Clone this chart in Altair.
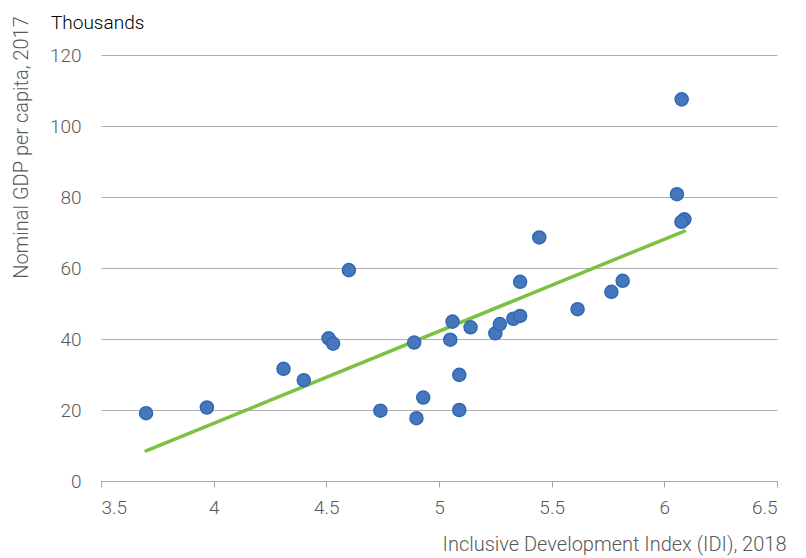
import altair as alt
import pandas as pd

idi = [3.70, 3.97, 4.31, 4.40, 4.51, 4.53, 4.60, 4.74, 4.89, 4.90, 4.93, 5.05, 5.06,
       5.09, 5.09, 5.14, 5.25, 5.27, 5.33, 5.36, 5.36, 5.445, 5.615, 5.765, 5.815,
       6.056, 6.077, 6.089, 6.076]
gdp = [19.1, 20.7, 31.6, 28.4, 40.2, 38.7, 59.4, 19.8, 39.0, 17.7, 23.5, 39.8, 44.9,
       29.9, 20.0, 43.3, 41.6, 44.2, 45.7, 46.5, 56.1, 68.6, 48.4, 53.3, 56.4,
       80.8, 107.5, 73.7, 73.0]
x_ticks = [3.5, 4, 4.5, 5, 5.5, 6, 6.5]
y_ticks = [0, 20, 40, 60, 80, 100, 120]

df = pd.DataFrame({"idi": idi, "gdp": gdp})

FONT = "Roboto"
GRAY = "#595959"

x_enc = alt.X(
    "idi:Q",
    scale=alt.Scale(domain=[3.5, 6.5], nice=False, zero=False),
    axis=alt.Axis(
        values=x_ticks, format="~g", title="Inclusive Development Index (IDI), 2018",
        grid=False, domainColor="#A6A6A6", tickColor="#A6A6A6", tickSize=6,
        labelFont=FONT, labelFontSize=19, labelFontWeight=300, labelColor=GRAY,
        labelPadding=11,
        titleFont=FONT, titleFontSize=20, titleFontWeight=300, titleColor=GRAY,
        titleX=685, titleY=69, titleAlign="right", titleBaseline="alphabetic",
    ),
)
y_enc = alt.Y(
    "gdp:Q",
    scale=alt.Scale(domain=[0, 120], nice=False),
    axis=alt.Axis(
        values=y_ticks, title="Nominal GDP per capita, 2017",
        domain=False, ticks=False, grid=True, gridColor="#AFAFAF", gridWidth=1.2,
        labelFont=FONT, labelFontSize=19, labelFontWeight=300, labelColor=GRAY,
        labelPadding=20,
        titleFont=FONT, titleFontSize=20, titleFontWeight=300, titleColor=GRAY,
        titleAngle=-90, titleX=-80, titleY=92, titleAlign="center",
        titleBaseline="middle",
    ),
)

points = alt.Chart(df).mark_circle(
    size=170, opacity=1, color="#4677BD", stroke="#2F69B3", strokeWidth=1.5
).encode(x=x_enc, y=y_enc)

trend = alt.Chart(df).transform_regression("idi", "gdp").mark_line(
    color="#7CC242", strokeWidth=3.5, strokeCap="round"
).encode(x="idi:Q", y="gdp:Q")

thousands = alt.Chart(pd.DataFrame({"t": ["Thousands"]})).mark_text(
    align="left", baseline="alphabetic", font=FONT, fontSize=19, fontWeight=300,
    color="#000000"
).encode(text="t:N", x=alt.value(-50), y=alt.value(-26))

chart = alt.layer(trend, points, thousands).properties(
    width=676, height=426,
    padding={"left": 93, "top": 47, "right": 21, "bottom": 77},
    autosize=alt.AutoSizeParams(type="none"),
).configure_view(stroke=None)

chart.save("out.html", embed_options={"renderer": "svg", "actions": False})
